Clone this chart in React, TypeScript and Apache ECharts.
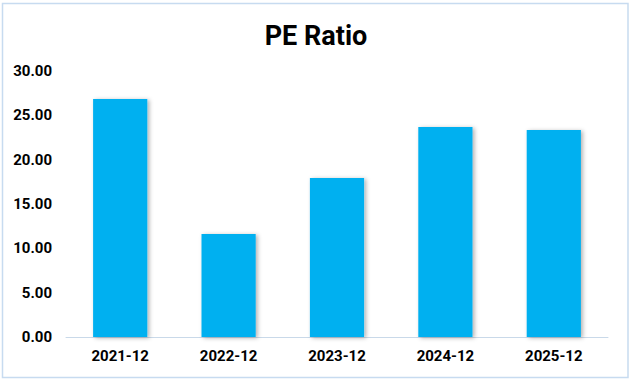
import React, { useEffect, useRef } from "react";
import * as echarts from "echarts";

const categories = ["2021-12", "2022-12", "2023-12", "2024-12", "2025-12"];
const peValues = [26.85, 11.62, 17.93, 23.68, 23.35];
const titleText = "PE Ratio";

export default function App() {
  const ref = useRef<HTMLDivElement>(null);
  useEffect(() => {
    if (!ref.current) return;
    const chart = echarts.init(ref.current, null, { renderer: "svg" });
    chart.setOption({
      animation: false,
      backgroundColor: "#ffffff",
      title: {
        text: titleText,
        left: "center",
        top: 17,
        textStyle: { fontFamily: "Roboto, Arial, sans-serif", fontWeight: "bold", fontSize: 27, color: "#000" },
      },
      graphic: [
        {
          type: "rect",
          shape: { x: 2.5, y: 3.5, width: 625.5, height: 374 },
          style: { fill: "none", stroke: "#C7DBF0", lineWidth: 1.5 },
          silent: true,
          z: 100,
        },
      ],
      grid: { left: 66, right: 24, top: 71, bottom: 45, containLabel: false },
      xAxis: {
        type: "category",
        data: categories,
        axisLine: { show: true, lineStyle: { color: "#C9D9E9", width: 1 } },
        axisTick: { show: false },
        axisLabel: {
          margin: 11,
          fontFamily: "Roboto, Arial, sans-serif",
          fontWeight: "bold",
          fontSize: 15,
          color: "#000",
        },
      },
      yAxis: {
        type: "value",
        min: 0,
        max: 30,
        interval: 5,
        splitLine: { show: false },
        axisLine: { show: false },
        axisTick: { show: false },
        axisLabel: {
          margin: 14,
          formatter: (v: number) => v.toFixed(2),
          fontFamily: "Roboto, Arial, sans-serif",
          fontWeight: "bold",
          fontSize: 15,
          color: "#000",
        },
      },
      series: [
        {
          type: "bar",
          data: peValues,
          barWidth: "50%",
          itemStyle: {
            color: "#00B0F0",
            shadowColor: "rgba(0,0,0,0.3)",
            shadowBlur: 4,
            shadowOffsetX: 2,
            shadowOffsetY: 1,
          },
        },
      ],
    });
    return () => chart.dispose();
  }, []);
  return (
    <div
      ref={ref}
      style={{ position: "fixed", left: 0, top: 0, width: 632, height: 382 }}
    />
  );
}
